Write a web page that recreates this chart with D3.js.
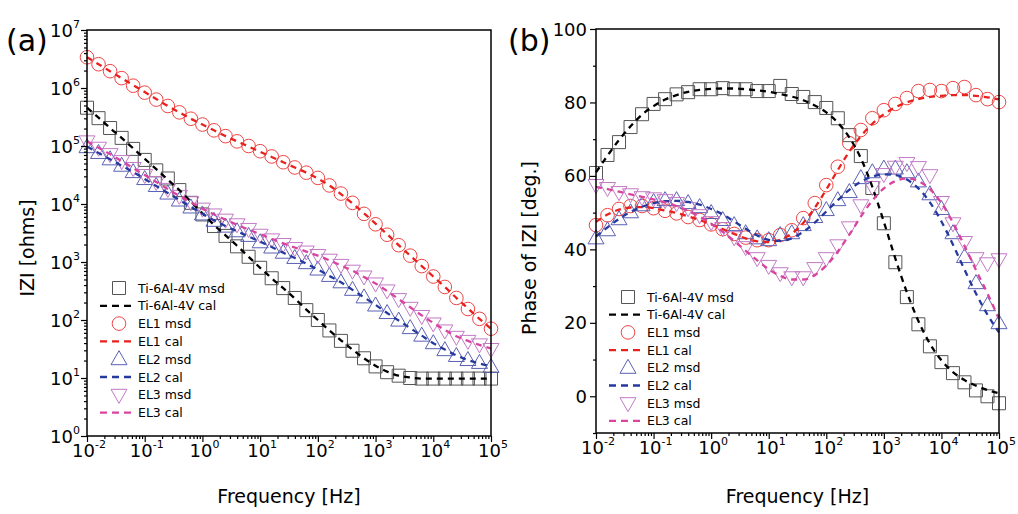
<!DOCTYPE html>
<html><head><meta charset="utf-8">
<script src="https://cdn.jsdelivr.net/npm/d3@7"></script>
<style>body{margin:0;background:#fff}svg{display:block;font-family:"DejaVu Sans",Verdana,sans-serif}</style>
</head><body><svg id="c" width="1018" height="514"></svg>
<script>
// ---------- DATA ----------
// log10 of frequency (Hz), 5 points per decade
const logFreq = [-2,-1.8,-1.6,-1.4,-1.2,-1,-0.8,-0.6,-0.4,-0.2,0,0.2,0.4,0.6,0.8,1,1.2,1.4,1.6,1.8,2,2.2,2.4,2.6,2.8,3,3.2,3.4,3.6,3.8,4,4.2,4.4,4.6,4.8,5];
const seriesNames = ["Ti-6Al-4V","EL1","EL2","EL3"];

// Panel (a): log10 |Z| (ohms)
const tiLogZMsd  = [5.66,5.48,5.31,5.14,4.95,4.76,4.58,4.44,4.24,4.02,3.82,3.62,3.45,3.27,3.09,2.90,2.72,2.55,2.38,2.17,2.00,1.82,1.64,1.47,1.34,1.20,1.10,1.04,1.00,0.99,0.99,0.99,0.99,0.99,0.99,0.99];
const tiLogZCal  = [5.66,5.49,5.31,5.14,4.96,4.78,4.60,4.42,4.24,4.04,3.84,3.64,3.46,3.28,3.09,2.90,2.72,2.55,2.37,2.18,2.00,1.82,1.65,1.49,1.34,1.21,1.11,1.04,1.01,0.99,0.99,0.99,0.99,0.99,0.99,0.99];
const el1LogZMsd = [6.53,6.41,6.29,6.17,6.04,5.92,5.80,5.69,5.58,5.47,5.37,5.27,5.17,5.08,5.00,4.91,4.82,4.72,4.63,4.54,4.45,4.32,4.18,4.02,3.83,3.65,3.47,3.29,3.11,2.93,2.75,2.57,2.38,2.19,2.02,1.85];
const el1LogZCal = [6.53,6.41,6.29,6.17,6.05,5.93,5.81,5.69,5.58,5.47,5.37,5.27,5.17,5.08,4.99,4.90,4.81,4.72,4.63,4.54,4.44,4.32,4.17,4.01,3.84,3.66,3.48,3.29,3.11,2.93,2.75,2.57,2.38,2.20,2.02,1.85];
const el2LogZMsd = [4.98,4.88,4.77,4.66,4.55,4.43,4.31,4.18,4.06,3.94,3.82,3.71,3.61,3.53,3.45,3.34,3.25,3.16,3.07,2.98,2.87,2.76,2.65,2.52,2.39,2.25,2.12,1.99,1.86,1.73,1.60,1.48,1.38,1.31,1.26,1.19];
const el2LogZCal = [4.99,4.88,4.77,4.66,4.55,4.43,4.31,4.19,4.07,3.95,3.83,3.72,3.62,3.53,3.44,3.35,3.26,3.16,3.07,2.97,2.87,2.76,2.65,2.52,2.39,2.26,2.12,1.99,1.86,1.73,1.60,1.49,1.39,1.31,1.25,1.20];
const el3LogZMsd = [5.08,4.97,4.86,4.74,4.62,4.50,4.38,4.26,4.14,4.03,3.92,3.82,3.73,3.65,3.57,3.47,3.39,3.31,3.24,3.18,3.12,3.04,2.95,2.85,2.75,2.63,2.51,2.36,2.21,2.07,1.94,1.82,1.71,1.64,1.58,1.50];
const el3LogZCal = [5.08,4.97,4.86,4.74,4.62,4.50,4.38,4.26,4.14,4.03,3.92,3.82,3.73,3.64,3.56,3.48,3.40,3.32,3.25,3.18,3.11,3.03,2.94,2.85,2.74,2.63,2.50,2.36,2.22,2.08,1.95,1.83,1.72,1.64,1.57,1.51];

// Panel (b): phase (deg.)
const tiPhaseMsd  = [60.8,65.7,69.2,73.3,76.8,79.6,80.9,82.2,82.8,83.6,83.6,83.9,83.6,83.6,83.1,83.1,84.5,82.3,81.5,80.1,78.5,75.7,71.1,65.4,56.7,47.1,36.5,27.0,19.6,13.6,9.3,6.3,3.8,1.6,0.0,-1.9];
const tiPhaseCal  = [61.0,65.5,69.8,73.5,76.7,79.0,80.8,82.0,82.9,83.4,83.7,83.8,83.8,83.6,83.3,82.9,82.3,81.6,80.6,79.2,77.3,74.5,70.5,64.8,57.0,47.5,37.5,28.3,20.5,14.3,9.8,6.6,4.4,2.9,1.7,0.8];
const el1PhaseMsd = [46.6,49.3,51.0,51.8,51.8,51.2,50.5,49.8,48.8,48.0,46.8,45.5,44.2,43.2,42.5,42.5,43.9,45.2,48.5,52.6,57.5,62.5,68.9,72.5,75.7,77.9,79.6,81.2,83.1,83.4,83.1,83.9,84.2,82.0,80.9,80.1];
const el1PhaseCal = [47.5,49.5,50.8,51.4,51.5,51.2,50.6,49.9,49.0,48.0,46.8,45.5,44.2,43.0,42.2,42.0,42.6,44.3,47.2,51.3,56.3,61.6,66.6,70.8,74.2,76.8,78.7,80.0,80.9,81.5,81.8,82.0,82.0,81.8,81.4,80.8];
const el2PhaseMsd = [43.0,45.2,48.2,50.1,52.0,52.9,53.4,53.4,52.6,51.5,49.9,48.0,46.6,44.4,43.0,42.5,43.9,44.4,46.6,48.8,50.7,53.4,55.6,59.4,61.0,62.0,62.0,61.0,58.5,55.0,51.0,44.4,37.9,30.8,24.8,19.9];
const el2PhaseCal = [43.5,46.0,48.3,50.2,51.6,52.6,53.1,53.2,52.9,52.2,51.0,49.5,47.6,45.6,43.8,42.6,42.3,43.0,44.8,47.3,50.3,53.4,56.2,58.4,59.8,60.4,60.2,59.0,56.6,52.8,47.6,41.3,34.5,28.0,22.2,17.4];
const el3PhaseMsd = [57.5,56.7,55.6,55.0,54.2,53.9,53.4,52.6,51.2,49.3,47.4,45.8,43.3,40.6,37.6,35.5,33.5,32.4,32.4,34.9,37.6,41.1,46.0,52.0,57.0,60.5,62.5,63.5,62.4,60.2,52.9,47.1,42.0,37.6,36.2,37.3];
const el3PhaseCal = [57.0,56.4,55.7,55.0,54.3,53.6,52.8,51.8,50.5,48.9,47.0,44.8,42.3,39.6,37.0,34.6,32.8,31.8,31.8,33.0,35.6,39.4,44.0,48.9,53.3,56.6,58.6,59.3,58.6,56.4,52.6,47.3,41.0,34.4,28.0,21.0];

// Tick values
const xTickExps = [-2,-1,0,1,2,3,4,5];
const yTickExpsA = [0,1,2,3,4,5,6,7];
const yTicksB = [0,20,40,60,80,100];
const yMinorB = [-10,10,30,50,70,90];
const legendLabels = ["Ti-6Al-4V msd","Ti-6Al-4V cal","EL1 msd","EL1 cal","EL2 msd","EL2 cal","EL3 msd","EL3 cal"];

// ---------- STYLE ----------
const markerKinds = ["square","circle","up","down"];
const markerColors = ["#555555","#ee4444","#5a60b4","#c27ac6"];
const lineColors = ["#000000","#e8201e","#263a9e","#d8449e"];

const svg = d3.select("#c");

function markerPath(kind) {
  if (kind === "square") return "M-6.5,-6.5H6.5V6.5H-6.5Z";
  if (kind === "circle") return "M6.8,0A6.8,6.8 0 1 1 -6.8,0A6.8,6.8 0 1 1 6.8,0Z";
  if (kind === "up") return "M0,-8.5L8,5.5L-8,5.5Z";
  return "M0,8.5L8,-5.5L-8,-5.5Z";
}

function drawPanel(cfg) {
  const g = svg.append("g");
  const x = d3.scaleLog().domain([1e-2, 1e5]).range([cfg.left, cfg.right]);
  const y = cfg.y;

  // data series
  cfg.msd.forEach((vals, i) => {
    const pts = logFreq.map((lf, k) => [x(Math.pow(10, lf)), y(cfg.tr(vals[k]))]);
    g.append("g").selectAll("path").data(pts).join("path")
      .attr("d", markerPath(markerKinds[i]))
      .attr("transform", d => `translate(${d[0]},${d[1]})`)
      .attr("fill", "none").attr("stroke", markerColors[i]).attr("stroke-width", 1);
  });
  cfg.cal.forEach((vals, i) => {
    const line = d3.line().curve(d3.curveMonotoneX)
      .x((lf) => x(Math.pow(10, lf))).y((lf, k) => y(cfg.tr(vals[k])));
    g.append("path").attr("d", line(logFreq))
      .attr("fill", "none").attr("stroke", lineColors[i]).attr("stroke-width", 2.3)
      .attr("stroke-dasharray", "6,5");
  });

  // frame
  g.append("rect").attr("x", cfg.left).attr("y", cfg.top)
    .attr("width", cfg.right - cfg.left).attr("height", cfg.bottom - cfg.top)
    .attr("fill", "none").attr("stroke", "#000").attr("stroke-width", 1.5);

  // x axis ticks
  const majors = xTickExps.map(e => Math.pow(10, e));
  const minors = [];
  for (let e = -2; e < 5; e++) for (let m = 2; m <= 9; m++) minors.push(m * Math.pow(10, e));
  const xa = g.append("g").attr("transform", `translate(0,${cfg.bottom})`);
  xa.call(d3.axisBottom(x).tickValues(majors).tickFormat("").tickSize(6).tickSizeOuter(0));
  xa.append("g").call(d3.axisBottom(x).tickValues(minors).tickFormat("").tickSize(3).tickSizeOuter(0));
  xa.selectAll(".domain").remove();
  xa.selectAll("line").attr("stroke", "#000").attr("stroke-width", 1.2);
  xTickExps.forEach(e => {
    const t = g.append("text").attr("x", x(Math.pow(10, e)) + 2).attr("y", cfg.bottom + 21)
      .attr("text-anchor", "middle").attr("font-size", 18).attr("fill", "#000");
    t.append("tspan").text("10");
    t.append("tspan").attr("font-size", 11).attr("dy", -9).text(String(e));
  });

  cfg.yAxis(g);

  // titles
  g.append("text").attr("x", (cfg.left + cfg.right) / 2).attr("y", 503)
    .attr("text-anchor", "middle").attr("font-size", 19).text("Frequency [Hz]");
  g.append("text").attr("transform", `translate(${cfg.ytx},248) rotate(-90)`)
    .attr("text-anchor", "middle").attr("font-size", 19).text(cfg.ytitle);
  g.append("text").attr("x", cfg.tagX).attr("y", 51).attr("font-size", 30).text(cfg.tag);

  // legend
  legendLabels.forEach((lab, j) => {
    const i = Math.floor(j / 2), yy = cfg.legY + j * cfg.legDy;
    if (j % 2 === 0) {
      g.append("path").attr("d", markerPath(markerKinds[i]))
        .attr("transform", `translate(${cfg.legX + 19},${yy})`)
        .attr("fill", "none").attr("stroke", markerColors[i]).attr("stroke-width", 1);
    } else {
      g.append("line").attr("x1", cfg.legX).attr("x2", cfg.legX + 33).attr("y1", yy).attr("y2", yy)
        .attr("stroke", lineColors[i]).attr("stroke-width", 2.3).attr("stroke-dasharray", "7,5");
    }
    g.append("text").attr("x", cfg.legX + 38).attr("y", yy + 4.5).attr("font-size", 12.5).text(lab);
  });
}

// Panel (a)
const yA = d3.scaleLog().domain([1, 1e7]).range([436, 30]);
drawPanel({
  left: 87, right: 491, top: 30, bottom: 436, y: yA, tr: v => Math.pow(10, v),
  msd: [tiLogZMsd, el1LogZMsd, el2LogZMsd, el3LogZMsd],
  cal: [tiLogZCal, el1LogZCal, el2LogZCal, el3LogZCal],
  ytitle: "IZI [ohms]", ytx: 34, tag: "(a)", tagX: 6,
  legX: 100, legY: 288, legDy: 17.8,
  yAxis: g => {
    const majors = yTickExpsA.map(e => Math.pow(10, e));
    const minors = [];
    for (let e = 0; e < 7; e++) for (let m = 2; m <= 9; m++) minors.push(m * Math.pow(10, e));
    const ya = g.append("g").attr("transform", "translate(87,0)");
    ya.call(d3.axisLeft(yA).tickValues(majors).tickFormat("").tickSize(6).tickSizeOuter(0));
    ya.append("g").call(d3.axisLeft(yA).tickValues(minors).tickFormat("").tickSize(3).tickSizeOuter(0));
    ya.selectAll(".domain").remove();
    ya.selectAll("line").attr("stroke", "#000").attr("stroke-width", 1.2);
    yTickExpsA.forEach(e => {
      const t = g.append("text").attr("x", 80).attr("y", yA(Math.pow(10, e)) + 7)
        .attr("text-anchor", "end").attr("font-size", 18);
      t.append("tspan").text("10");
      t.append("tspan").attr("font-size", 11).attr("dy", -9).text(String(e));
    });
  }
});

// Panel (b)
const yB = d3.scaleLinear().domain([-10, 100]).range([433, 29]);
drawPanel({
  left: 596, right: 999, top: 29, bottom: 433, y: yB, tr: v => v,
  msd: [tiPhaseMsd, el1PhaseMsd, el2PhaseMsd, el3PhaseMsd],
  cal: [tiPhaseCal, el1PhaseCal, el2PhaseCal, el3PhaseCal],
  ytitle: "Phase of IZI [deg.]", ytx: 536, tag: "(b)", tagX: 508,
  legX: 609, legY: 297, legDy: 17.7,
  yAxis: g => {
    const ya = g.append("g").attr("transform", "translate(596,0)");
    ya.call(d3.axisLeft(yB).tickValues(yTicksB).tickFormat("").tickSize(6).tickSizeOuter(0));
    ya.append("g").call(d3.axisLeft(yB).tickValues(yMinorB).tickFormat("").tickSize(3).tickSizeOuter(0));
    ya.selectAll(".domain").remove();
    ya.selectAll("line").attr("stroke", "#000").attr("stroke-width", 1.2);
    yTicksB.forEach(v => {
      g.append("text").attr("x", 587).attr("y", yB(v) + 6.5)
        .attr("text-anchor", "end").attr("font-size", 18).text(String(v));
    });
  }
});
</script></body></html>
